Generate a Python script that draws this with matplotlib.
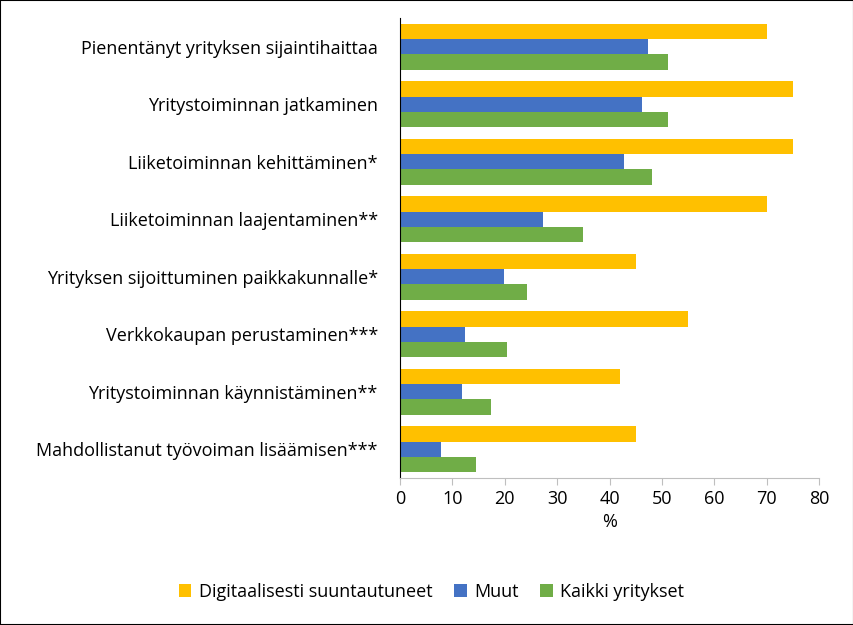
import matplotlib
matplotlib.use("Agg")
import matplotlib.pyplot as plt
import numpy as np

categories = ["Pienentänyt yrityksen sijaintihaittaa", "Yritystoiminnan jatkaminen",
              "Liiketoiminnan kehittäminen*", "Liiketoiminnan laajentaminen**",
              "Yrityksen sijoittuminen paikkakunnalle*", "Verkkokaupan perustaminen***",
              "Yritystoiminnan käynnistäminen**", "Mahdollistanut työvoiman lisäämisen***"]
digital = [70, 75, 75, 70, 45, 55, 42, 45]
muut = [47.3, 46.3, 42.7, 27.3, 19.9, 12.4, 11.9, 7.8]
kaikki = [51.2, 51.2, 48.1, 34.9, 24.3, 20.5, 17.4, 14.5]
series_names = ["Digitaalisesti suuntautuneet", "Muut", "Kaikki yritykset"]
colors = ["#FFC000", "#4472C4", "#70AD47"]

plt.rcParams["font.family"] = "Open Sans"
fig = plt.figure(figsize=(8.54, 6.25), dpi=100)
ax = fig.add_axes([400/854, 1-478/625, 419/854, 460/625])
y = np.arange(len(categories))
h = 0.265
for i, (vals, name, c) in enumerate(zip([digital, muut, kaikki], series_names, colors)):
    ax.barh(y + (i-1)*h, vals, height=h, color=c, label=name)
ax.set_yticks(y)
ax.set_yticklabels(categories, fontsize=13)
ax.set_ylim(len(categories)-0.5, -0.5)
ax.set_xlim(0, 80)
ax.set_xticks(range(0, 81, 10))
ax.tick_params(axis="x", labelsize=13, length=5, color="#bfbfbf")
ax.tick_params(axis="y", length=0, pad=16)
ax.set_xlabel("%", fontsize=13)
for s in ["top", "right"]:
    ax.spines[s].set_visible(False)
ax.spines["left"].set_color("#000000")
ax.spines["bottom"].set_color("#bfbfbf")
fig.legend(loc="center", bbox_to_anchor=(0.505, 1-592/625), ncol=3, frameon=False,
           fontsize=13, handlelength=0.7, handleheight=0.7, columnspacing=1.2,
           handletextpad=0.4)
fig.patches.append(plt.Rectangle((0, 0), 1, 1, transform=fig.transFigure, fill=False,
                                 edgecolor="#000000", linewidth=1.5))
fig.savefig("out.png", dpi=100)
